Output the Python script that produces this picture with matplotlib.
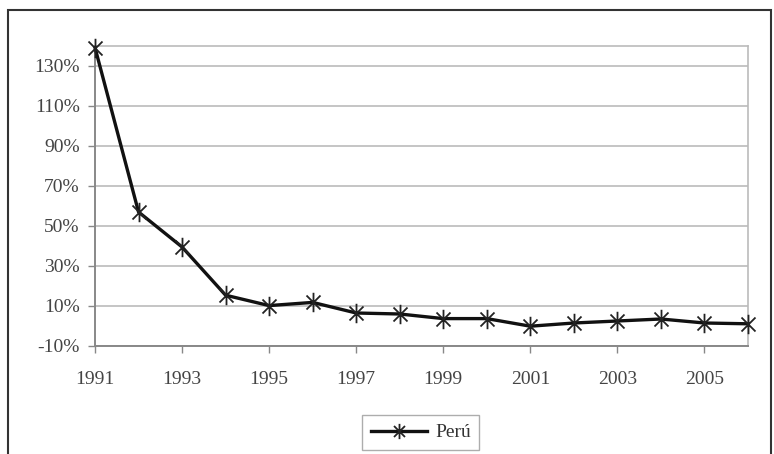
import matplotlib
matplotlib.use("Agg")
import matplotlib.pyplot as plt
from matplotlib.path import Path
from matplotlib.patches import Rectangle

years = [1991, 1992, 1993, 1994, 1995, 1996, 1997, 1998, 1999, 2000,
         2001, 2002, 2003, 2004, 2005, 2006]
peru = [139.2, 57.0, 39.5, 15.4, 10.2, 11.8, 6.5, 6.0, 3.7, 3.7,
        -0.1, 1.5, 2.5, 3.5, 1.5, 1.1]
yticks = [-10, 10, 30, 50, 70, 90, 110, 130]
xticks = [1991, 1993, 1995, 1997, 1999, 2001, 2003, 2005]
series_name = "Perú"

plt.rcParams['font.family'] = ['Liberation Serif', 'DejaVu Serif']

W, H = 774, 454
fig = plt.figure(figsize=(W / 100, H / 100), dpi=100)

# outer frame
fig.patches.append(Rectangle((8 / W, -0.01), (771 - 8) / W, (H - 10) / H + 0.01,
                             transform=fig.transFigure, fill=False,
                             edgecolor='#333333', linewidth=1.5))

left, right, top, bottom = 95, 748, 46, 346
ax = fig.add_axes([left / W, 1 - bottom / H, (right - left) / W, (bottom - top) / H])

star = Path([(0, -1), (0, 1), (-0.72, -0.72), (0.72, 0.72), (-0.72, 0.72), (0.72, -0.72)],
            [Path.MOVETO, Path.LINETO, Path.MOVETO, Path.LINETO, Path.MOVETO, Path.LINETO])

ax.plot(years, peru, color='#111111', linewidth=2.4, marker=star, markersize=14,
        markeredgewidth=1.3, markeredgecolor='#222222', clip_on=False, zorder=3,
        label=series_name)

ax.set_xlim(1991, 2006)
ax.set_ylim(-10, 140)
ax.set_yticks(yticks)
ax.set_yticklabels([f"{v}%" for v in yticks])
ax.set_xticks(xticks)
ax.set_xticklabels([str(v) for v in xticks])
ax.grid(axis='y', color='#bbbbbb', linewidth=1.2)
ax.set_axisbelow(True)
for s in ['top', 'right']:
    ax.spines[s].set_color('#bbbbbb')
    ax.spines[s].set_linewidth(1.2)
for s in ['left', 'bottom']:
    ax.spines[s].set_color('#888888')
    ax.spines[s].set_linewidth(1.4)
ax.tick_params(axis='both', colors='#888888', labelcolor='#444444', labelsize=14,
               length=5, width=1)
ax.tick_params(axis='x', pad=13)
ax.tick_params(axis='y', pad=6)

leg = fig.legend(loc='upper left', bbox_to_anchor=(362 / W, 1 - 415 / H),
                 borderaxespad=0, frameon=True, fancybox=False, fontsize=14,
                 handlelength=2.9, borderpad=0.45, handletextpad=0.4,
                 labelcolor='#333333')
leg.get_frame().set_edgecolor('#999999')
leg.get_frame().set_linewidth(1.0)
for h in leg.legend_handles:
    h.set_markersize(11)

fig.savefig("out.png", dpi=100)
